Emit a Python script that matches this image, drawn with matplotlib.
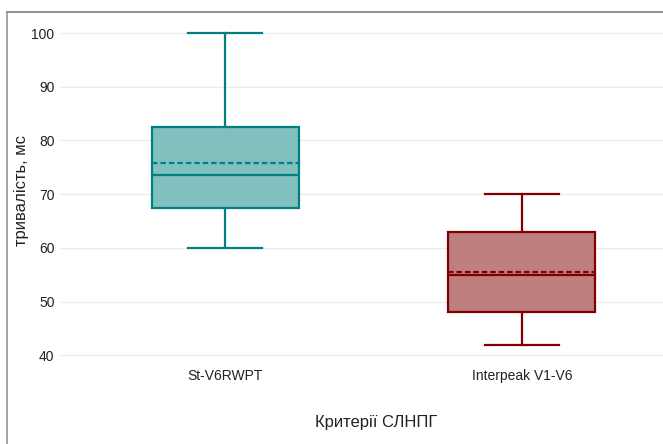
import matplotlib
matplotlib.use("Agg")
import matplotlib.pyplot as plt
from matplotlib.lines import Line2D

categories = ["St-V6RWPT", "Interpeak V1-V6"]
whisker_low = [60, 42]
q1 = [67.5, 48]
median = [73.5, 55]
q3 = [82.5, 63]
whisker_high = [100, 70]
mean = [75.8, 55.5]
edge_colors = ["#008080", "#800000"]
fill_colors = ["#80c0bf", "#c07f7f"]
y_ticks = [40, 50, 60, 70, 80, 90, 100]

plt.rcParams['font.family'] = ['Liberation Sans', 'DejaVu Sans']

W, H = 663, 444
fig = plt.figure(figsize=(W / 100, H / 100), dpi=100)
ax = fig.add_axes([60 / W, 1 - 360.4 / H, 1 - 60 / W, (360.4 - 25) / H])

stats = []
for i, c in enumerate(categories):
    stats.append(dict(label=c, whislo=whisker_low[i], q1=q1[i], med=median[i],
                      q3=q3[i], whishi=whisker_high[i], mean=mean[i], fliers=[]))

lw = 1.6
for i, s in enumerate(stats):
    ec = edge_colors[i]
    ax.bxp([s], positions=[i], widths=0.495, patch_artist=True, showmeans=True,
           meanline=True, showfliers=False,
           boxprops=dict(facecolor=fill_colors[i], edgecolor=ec, linewidth=lw),
           medianprops=dict(color=ec, linewidth=lw),
           meanprops=dict(color=ec, linewidth=lw, linestyle=(0, (2.5, 1.3))),
           whiskerprops=dict(color=ec, linewidth=lw),
           capprops=dict(color=ec, linewidth=lw),
           capwidths=0.247, zorder=3)

ax.set_xlim(-0.556, 1.475)
ax.set_ylim(39.05, 101.5)
ax.set_yticks(y_ticks)
ax.set_xticks(range(len(categories)))
ax.set_xticklabels(categories)
ax.tick_params(axis='both', length=0, labelsize=10, colors='#222222')
ax.tick_params(axis='y', pad=4)
ax.tick_params(axis='x', pad=6)
ax.grid(axis='y', color='#ebebeb', linewidth=1)
ax.set_axisbelow(True)
for sp in ax.spines.values():
    sp.set_visible(False)

fig.text(22 / W, 1 - 190 / H, "тривалість, мс", rotation=90, ha='center', va='center',
         fontsize=12, color='#222222')
fig.text(376 / W, 1 - 422 / H, "Критерії СЛНПГ", ha='center', va='center',
         fontsize=12, color='#222222')

# outer frame (top and left)
fig.add_artist(Line2D([7 / W, 1], [1 - 12 / H, 1 - 12 / H], transform=fig.transFigure,
                      color='#8c9a9a', linewidth=1.5))
fig.add_artist(Line2D([7 / W, 7 / W], [0, 1 - 12 / H], transform=fig.transFigure,
                      color='#8c9a9a', linewidth=1.2))

fig.savefig("out.png", dpi=100)
